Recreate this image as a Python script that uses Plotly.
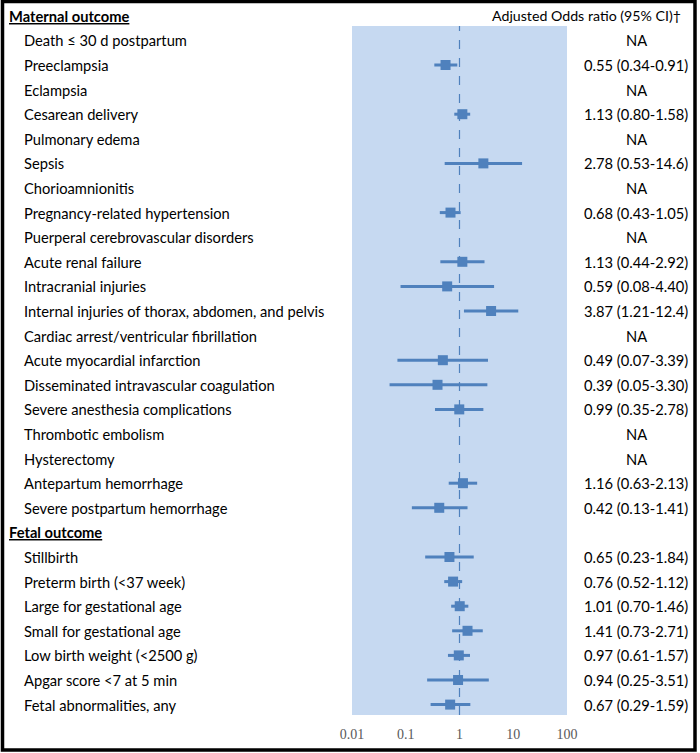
import plotly.graph_objects as go

# ---------------- data ----------------
maternal_labels = [
    "Death ≤ 30 d postpartum", "Preeclampsia", "Eclampsia", "Cesarean delivery",
    "Pulmonary edema", "Sepsis", "Chorioamnionitis", "Pregnancy-related hypertension",
    "Puerperal cerebrovascular disorders", "Acute renal failure", "Intracranial injuries",
    "Internal injuries of thorax, abdomen, and pelvis", "Cardiac arrest/ventricular fibrillation",
    "Acute myocardial infarction", "Disseminated intravascular coagulation",
    "Severe anesthesia complications", "Thrombotic embolism", "Hysterectomy",
    "Antepartum hemorrhage", "Severe postpartum hemorrhage",
]
maternal_or = [None, 0.55, None, 1.13, None, 2.78, None, 0.68, None, 1.13, 0.59, 3.87,
               None, 0.49, 0.39, 0.99, None, None, 1.16, 0.42]
maternal_lo = [None, 0.34, None, 0.80, None, 0.53, None, 0.43, None, 0.44, 0.08, 1.21,
               None, 0.07, 0.05, 0.35, None, None, 0.63, 0.13]
maternal_hi = [None, 0.91, None, 1.58, None, 14.6, None, 1.05, None, 2.92, 4.40, 12.4,
               None, 3.39, 3.30, 2.78, None, None, 2.13, 1.41]
maternal_text = ["NA", "0.55 (0.34-0.91)", "NA", "1.13 (0.80-1.58)", "NA", "2.78 (0.53-14.6)",
                 "NA", "0.68 (0.43-1.05)", "NA", "1.13 (0.44-2.92)", "0.59 (0.08-4.40)",
                 "3.87 (1.21-12.4)", "NA", "0.49 (0.07-3.39)", "0.39 (0.05-3.30)",
                 "0.99 (0.35-2.78)", "NA", "NA", "1.16 (0.63-2.13)", "0.42 (0.13-1.41)"]

fetal_labels = ["Stillbirth", "Preterm birth (<37 week)", "Large for gestational age",
                "Small for gestational age", "Low birth weight (<2500 g)",
                "Apgar score <7 at 5 min", "Fetal abnormalities, any"]
fetal_or = [0.65, 0.76, 1.01, 1.41, 0.97, 0.94, 0.67]
fetal_lo = [0.23, 0.52, 0.70, 0.73, 0.61, 0.25, 0.29]
fetal_hi = [1.84, 1.12, 1.46, 2.71, 1.57, 3.51, 1.59]
fetal_text = ["0.65 (0.23-1.84)", "0.76 (0.52-1.12)", "1.01 (0.70-1.46)", "1.41 (0.73-2.71)",
              "0.97 (0.61-1.57)", "0.94 (0.25-3.51)", "0.67 (0.29-1.59)"]

group_headers = ["Maternal outcome", "Fetal outcome"]
column_header = "Adjusted Odds ratio (95% CI)†"
tick_vals = [0.01, 0.1, 1, 10, 100]
tick_text = ["0.01", "0.1", "1", "10", "100"]
x_min, x_max = 0.01, 100
reference_value = 1

# ---------------- build rows ----------------
rows = []  # (kind, label, or, lo, hi, text)
rows.append(("header", group_headers[0], None, None, None, column_header))
for l, o, lo, hi, t in zip(maternal_labels, maternal_or, maternal_lo, maternal_hi, maternal_text):
    rows.append(("item", l, o, lo, hi, t))
rows.append(("header", group_headers[1], None, None, None, ""))
for l, o, lo, hi, t in zip(fetal_labels, fetal_or, fetal_lo, fetal_hi, fetal_text):
    rows.append(("item", l, o, lo, hi, t))

xs, ys, eplus, eminus = [], [], [], []
for i, (kind, l, o, lo, hi, t) in enumerate(rows):
    if o is not None:
        xs.append(o)
        ys.append(i)
        eplus.append(hi - o)
        eminus.append(o - lo)

BLUE = "#4F81BD"
PANEL = "#C6D9F1"
W, H = 700, 753
fig = go.Figure()
fig.add_trace(go.Scatter(
    x=xs, y=ys, mode="markers",
    marker=dict(symbol="square", size=10, color=BLUE),
    error_x=dict(type="data", array=eplus, arrayminus=eminus, color=BLUE,
                 thickness=3, width=0, symmetric=False),
    showlegend=False, hoverinfo="skip", cliponaxis=False,
))

annotations = []
LABEL_FONT = "Lato, Open Sans, sans-serif"
FS = 14.7
for i, (kind, l, o, lo, hi, t) in enumerate(rows):
    if kind == "header":
        annotations.append(dict(
            x=7 / W, xref="paper", y=i, yref="y", xanchor="left", yanchor="middle",
            text="<b><u>" + l + "</u></b>", showarrow=False,
            font=dict(family=LABEL_FONT, size=FS, color="black")))
        if t:
            annotations.append(dict(
                x=683 / W, xref="paper", y=i, yref="y", xanchor="right", yanchor="middle",
                text=t, showarrow=False,
                font=dict(family=LABEL_FONT, size=14.2, color="black")))
    else:
        annotations.append(dict(
            x=22 / W, xref="paper", y=i, yref="y", xanchor="left", yanchor="middle",
            text=l, showarrow=False,
            font=dict(family=LABEL_FONT, size=FS, color="black")))
        annotations.append(dict(
            x=636 / W, xref="paper", y=i, yref="y", xanchor="center", yanchor="middle",
            text=t, showarrow=False,
            font=dict(family=LABEL_FONT, size=FS, color="black")))

row0_px, row_step = 15.8, 24.6
top_px, bot_px = 26, 715
y_first = (0 - row0_px) / row_step
y_last = (H - row0_px) / row_step
panel_y0 = (H - bot_px) / H
panel_y1 = (H - top_px) / H

shapes = [
    dict(type="rect", xref="x", yref="paper", x0=x_min, x1=x_max, y0=panel_y0, y1=panel_y1,
         fillcolor=PANEL, line=dict(width=0), layer="below"),
    dict(type="line", xref="x", yref="paper", x0=reference_value, x1=reference_value,
         y0=panel_y0, y1=panel_y1,
         line=dict(color=BLUE, width=1.2, dash="dash"), layer="below"),
    dict(type="rect", xref="paper", yref="paper", x0=2.5 / W, x1=695 / W,
         y0=(H - 750) / H, y1=(H - 1.5) / H, line=dict(color="black", width=3.5)),
]

fig.update_layout(
    width=W, height=H, margin=dict(l=0, r=0, t=0, b=0, pad=0, autoexpand=False),
    paper_bgcolor="white", plot_bgcolor="rgba(0,0,0,0)",
    xaxis=dict(type="log", range=[-2, 2], domain=[352 / W, 567 / W],
               anchor="free", position=panel_y0, automargin=False,
               tickvals=tick_vals, ticktext=tick_text, showgrid=False, zeroline=False,
               showline=False, ticks="outside", ticklen=6, tickcolor="rgba(0,0,0,0)",
               tickfont=dict(family="Liberation Serif, Times New Roman, serif", size=14,
                             color="#595959"), fixedrange=True),
    yaxis=dict(range=[y_last, y_first], domain=[0, 1], automargin=False,
               showticklabels=False, showgrid=False, zeroline=False, showline=False,
               fixedrange=True),
    annotations=annotations, shapes=shapes,
)

fig.write_html("out.html", config={"displayModeBar": False},
               post_script="document.body.style.margin='0';document.body.style.overflow='hidden';")
